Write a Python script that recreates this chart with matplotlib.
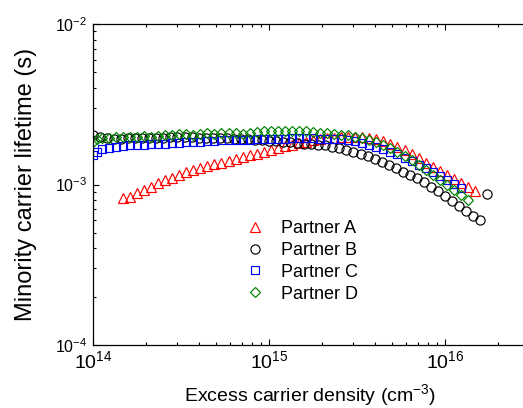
import numpy as np
import matplotlib
matplotlib.use("Agg")
import matplotlib.pyplot as plt

plt.rcParams['font.family'] = ['Liberation Sans', 'DejaVu Sans']
plt.rcParams['mathtext.default'] = 'regular'
plt.rcParams['axes.unicode_minus'] = False

# excess carrier density as log10(cm^-3), lifetime in ms
a_logn = [14.17, 14.21, 14.25, 14.29, 14.33, 14.37, 14.41, 14.45, 14.49, 14.53,
          14.57, 14.61, 14.65, 14.69, 14.73, 14.77, 14.81, 14.85, 14.89, 14.93,
          14.97, 15.01, 15.05, 15.09, 15.13, 15.17, 15.21, 15.25, 15.29, 15.33,
          15.37, 15.41, 15.45, 15.49, 15.53, 15.57, 15.61, 15.65, 15.69, 15.73,
          15.77, 15.81, 15.85, 15.89, 15.93, 15.97, 16.01, 16.05, 16.09, 16.13, 16.17]
a_tau = [0.82, 0.84, 0.88, 0.93, 0.97, 1.02, 1.06, 1.10, 1.15, 1.19,
         1.23, 1.27, 1.30, 1.34, 1.37, 1.41, 1.45, 1.48, 1.52, 1.56,
         1.60, 1.64, 1.69, 1.73, 1.77, 1.81, 1.85, 1.88, 1.91, 1.94,
         1.96, 1.97, 1.98, 1.98, 1.97, 1.94, 1.91, 1.86, 1.80, 1.72,
         1.64, 1.55, 1.46, 1.37, 1.29, 1.21, 1.14, 1.08, 1.02, 0.96, 0.91]

b_logn = [14.00, 14.04, 14.08, 14.12, 14.16, 14.20, 14.24, 14.28, 14.32, 14.36,
          14.40, 14.44, 14.48, 14.52, 14.56, 14.60, 14.64, 14.68, 14.72, 14.76,
          14.80, 14.84, 14.88, 14.92, 14.96, 15.00, 15.04, 15.08, 15.12, 15.16,
          15.20, 15.24, 15.28, 15.32, 15.36, 15.40, 15.44, 15.48, 15.52, 15.56,
          15.60, 15.64, 15.68, 15.72, 15.76, 15.80, 15.84, 15.88, 15.92, 15.96,
          16.00, 16.04, 16.08, 16.12, 16.16, 16.20, 16.24]
b_tau = [2.02, 1.98, 1.95, 1.93, 1.93, 1.94, 1.94, 1.95, 1.95, 1.96,
         1.96, 1.97, 1.97, 1.97, 1.97, 1.96, 1.96, 1.95, 1.95, 1.94,
         1.93, 1.92, 1.91, 1.89, 1.88, 1.87, 1.86, 1.85, 1.83, 1.82,
         1.80, 1.79, 1.77, 1.75, 1.72, 1.68, 1.64, 1.60, 1.55, 1.50,
         1.44, 1.38, 1.32, 1.26, 1.20, 1.15, 1.09, 1.03, 0.97, 0.91,
         0.85, 0.79, 0.73, 0.68, 0.64, 0.60, 0.87]

c_logn = [14.00, 14.02, 14.05, 14.09, 14.13, 14.17, 14.21, 14.25, 14.29, 14.33,
          14.37, 14.41, 14.45, 14.49, 14.53, 14.57, 14.61, 14.65, 14.69, 14.73,
          14.77, 14.81, 14.85, 14.89, 14.93, 14.97, 15.01, 15.05, 15.09, 15.13,
          15.17, 15.21, 15.25, 15.29, 15.33, 15.37, 15.41, 15.45, 15.49, 15.53,
          15.57, 15.61, 15.65, 15.69, 15.73, 15.77, 15.81, 15.85, 15.89, 15.93,
          15.97, 16.01, 16.05, 16.09]
c_tau = [1.52, 1.60, 1.66, 1.70, 1.72, 1.74, 1.75, 1.76, 1.77, 1.78,
         1.79, 1.80, 1.81, 1.82, 1.83, 1.84, 1.85, 1.86, 1.87, 1.88,
         1.89, 1.89, 1.90, 1.90, 1.91, 1.92, 1.92, 1.93, 1.93, 1.94,
         1.94, 1.94, 1.94, 1.93, 1.93, 1.92, 1.91, 1.89, 1.86, 1.82,
         1.77, 1.72, 1.66, 1.60, 1.54, 1.47, 1.40, 1.33, 1.26, 1.19,
         1.13, 1.07, 1.01, 0.95]

d_logn = [14.00, 14.02, 14.05, 14.09, 14.13, 14.17, 14.21, 14.25, 14.29, 14.33,
          14.37, 14.41, 14.45, 14.49, 14.53, 14.57, 14.61, 14.65, 14.69, 14.73,
          14.77, 14.81, 14.85, 14.89, 14.93, 14.97, 15.01, 15.05, 15.09, 15.13,
          15.17, 15.21, 15.25, 15.29, 15.33, 15.37, 15.41, 15.45, 15.49, 15.53,
          15.57, 15.61, 15.65, 15.69, 15.73, 15.77, 15.81, 15.85, 15.89, 15.93,
          15.97, 16.01, 16.05, 16.09, 16.13]
d_tau = [1.85, 1.92, 1.95, 1.96, 1.97, 1.98, 1.97, 1.99, 2.00, 1.99,
         2.01, 2.03, 2.02, 2.05, 2.06, 2.04, 2.06, 2.08, 2.07, 2.09,
         2.10, 2.08, 2.07, 2.09, 2.12, 2.14, 2.15, 2.16, 2.15, 2.16,
         2.15, 2.14, 2.12, 2.10, 2.08, 2.05, 2.04, 2.02, 1.99, 1.95,
         1.90, 1.84, 1.77, 1.69, 1.60, 1.51, 1.42, 1.32, 1.23, 1.14,
         1.06, 0.99, 0.92, 0.86, 0.80]

series = [
    ("Partner A", a_logn, a_tau, "^", "red", 6.8),
    ("Partner B", b_logn, b_tau, "o", "black", 6.6),
    ("Partner C", c_logn, c_tau, "s", "blue", 5.4),
    ("Partner D", d_logn, d_tau, "D", "green", 5.0),
]

fig = plt.figure(figsize=(5.23, 4.08), dpi=100)
# axes run past the right edge of the figure, as in the original export
ax = fig.add_axes([93 / 523, 63 / 408, 458 / 523, 321 / 408])

for name, logn, tau, mk, col, ms in series:
    n = 10.0 ** np.array(logn)
    t = np.array(tau) * 1e-3
    ax.plot(n, t, linestyle="none", marker=mk, markersize=ms,
            markerfacecolor="none", markeredgecolor=col, markeredgewidth=0.85,
            label=name)

ax.set_xscale("log")
ax.set_yscale("log")
ax.set_xlim(1e14, 10 ** (14 + 458 / 176))
ax.set_ylim(1e-4, 1e-2)
ax.spines["right"].set_visible(False)

ax.tick_params(which="both", direction="in", top=True, right=False, width=0.8)
ax.tick_params(which="major", length=4.5)
ax.tick_params(which="minor", length=2.3)
ax.tick_params(axis="x", which="major", labelsize=14, pad=4)
ax.tick_params(axis="y", which="major", labelsize=11.5, pad=4)
for s in ax.spines.values():
    s.set_linewidth(0.9)

ax.set_xlabel("Excess carrier density (cm$^{-3}$)", fontsize=14)
ax.xaxis.set_label_coords((310 - 93) / 458, -0.115)
ax.set_ylabel("Minority carrier lifetime (s)", fontsize=17, labelpad=13)

ax.legend(loc="upper left", bbox_to_anchor=(0.335 * 436 / 458, 0.412), frameon=False,
          fontsize=13, numpoints=1, handlelength=1.0, handletextpad=0.95,
          labelspacing=0.27, borderaxespad=0)

fig.savefig("out.png", dpi=100)
